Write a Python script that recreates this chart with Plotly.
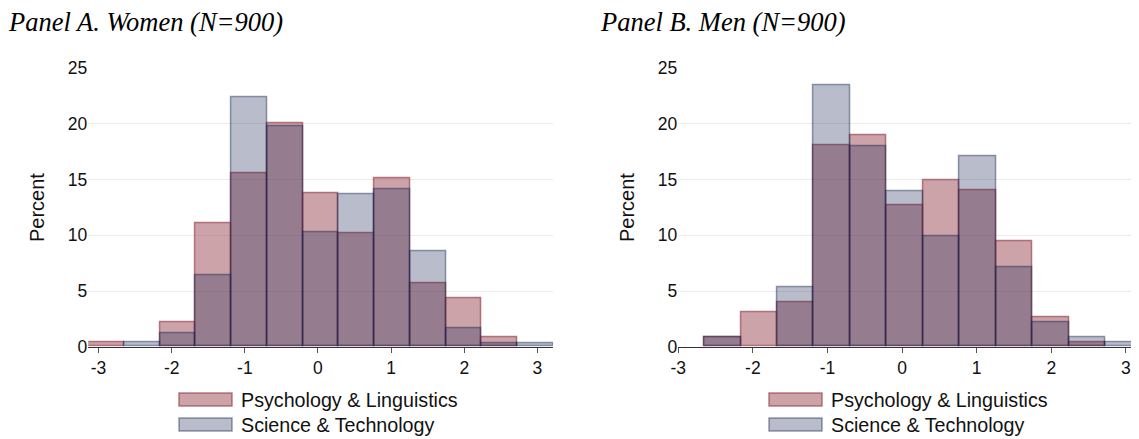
import plotly.graph_objects as go

# ---------------- data ----------------
bin_start = -3.14
bin_width = 0.489
n_bins = 13

women_psych = [0.36, 0.0, 2.16, 11.08, 15.57, 20.06, 13.77, 10.21, 15.12, 5.69, 4.37, 0.81, 0.0]
women_sci   = [0.0, 0.36, 1.20, 6.38, 22.37, 19.82, 10.27, 13.71, 14.16, 8.53, 1.62, 0.30, 0.33]
men_psych   = [0.0, 0.84, 3.05, 3.98, 18.11, 19.01, 12.66, 14.94, 14.01, 9.46, 2.63, 0.36, 0.0]
men_sci     = [0.0, 0.84, 0.0, 5.33, 23.50, 18.02, 13.92, 9.88, 17.13, 7.16, 2.19, 0.81, 0.36]

x_tick_vals = [-3, -2, -1, 0, 1, 2, 3]
x_tick_labels = ["-3", "-2", "-1", "0", "1", "2", "3"]
y_tick_vals = [0, 5, 10, 15, 20, 25]
y_tick_labels = ["0", "5", "10", "15", "20", "25"]

series_names = ["Psychology & Linguistics", "Science & Technology"]
panel_titles = ["Panel A. Women (N=900)", "Panel B. Men (N=900)"]
y_title = "Percent"

# ---------------- style ----------------
W, H = 1139, 439
OX, OY = 8, 8  # page body margin offset
RED_FILL = "rgba(153,71,81,0.5)"
RED_LINE = "rgba(150,60,72,0.65)"
GREY_FILL = "rgba(22,38,82,0.30)"
GREY_LINE = "rgba(22,38,82,0.45)"
SANS = "Liberation Sans, Arial, sans-serif"
SERIF = "Liberation Serif, Times New Roman, serif"


def px(x):
    return (x - OX) / W


def py(y):
    return 1 - (y - OY) / H


def nz(vals):
    # empty bins are not drawn
    return [v if v > 0 else None for v in vals]


centers = [bin_start + bin_width * (i + 0.5) for i in range(n_bins)]

fig = go.Figure()

panels = [
    ("x", "y", women_psych, women_sci),
    ("x2", "y2", men_psych, men_sci),
]
for xa, ya, psych, sci in panels:
    fig.add_trace(go.Bar(
        x=centers, y=nz(psych), width=bin_width, xaxis=xa, yaxis=ya,
        marker=dict(color=RED_FILL, line=dict(color=RED_LINE, width=1.5)),
        name=series_names[0], showlegend=False,
    ))
    fig.add_trace(go.Bar(
        x=centers, y=nz(sci), width=bin_width, xaxis=xa, yaxis=ya,
        marker=dict(color=GREY_FILL, line=dict(color=GREY_LINE, width=1.5)),
        name=series_names[1], showlegend=False,
    ))

x_end = bin_start + bin_width * n_bins

xcommon = dict(
    tickvals=x_tick_vals, ticktext=x_tick_labels, ticks="outside", ticklen=5,
    tickcolor="#555", tickwidth=1, showline=True, linecolor="#333", linewidth=1,
    showgrid=False, zeroline=False, tickfont=dict(family=SANS, size=17.5, color="#111"),
    fixedrange=True, automargin=False,
)
ycommon = dict(
    tickvals=y_tick_vals, ticktext=y_tick_labels, range=[0, 25], showline=False,
    showgrid=True, gridcolor="#ececec", gridwidth=1, zeroline=False, ticks="",
    tickfont=dict(family=SANS, size=17.5, color="#111"), fixedrange=True, automargin=False,
)

y_dom = [py(346.7), py(68.3)]
x2_right = 1139 + OX
fig.update_layout(
    width=W, height=H, margin=dict(l=0, r=0, t=0, b=0, pad=0, autoexpand=False),
    paper_bgcolor="white", plot_bgcolor="white", barmode="overlay", bargap=0,
    xaxis=dict(domain=[px(88.3), px(553.3)], range=[bin_start, x_end], anchor="y", **xcommon),
    yaxis=dict(domain=y_dom, anchor="x", **ycommon),
    xaxis2=dict(domain=[px(678.3), min(1.0, px(x2_right))],
                range=[-3, -3 + (x2_right - 678.3) / 74.6], anchor="y2", **xcommon),
    yaxis2=dict(domain=y_dom, anchor="x2", **ycommon),
    showlegend=False,
)

annotations = []
shapes = []
for k, x0_title in enumerate([8, 600]):
    annotations.append(dict(
        text="<i>" + panel_titles[k] + "</i>", xref="paper", yref="paper",
        x=px(x0_title - 2), y=py(22), xanchor="left", yanchor="middle", showarrow=False,
        font=dict(family=SERIF, size=26.5, color="#000"),
    ))
    off = 590 * k
    # y axis title
    annotations.append(dict(
        text=y_title, xref="paper", yref="paper", x=px(37 + off), y=py(208),
        xanchor="center", yanchor="middle", textangle=-90, showarrow=False,
        font=dict(family=SANS, size=20, color="#111"),
    ))
    # legend
    for j, (fill, line) in enumerate([(RED_FILL, RED_LINE), (GREY_FILL, GREY_LINE)]):
        yc = 399.5 + 25 * j
        shapes.append(dict(
            type="rect", xref="paper", yref="paper",
            x0=px(179 + off), x1=px(232 + off), y0=py(yc - 6.5), y1=py(yc + 6.5),
            fillcolor=fill, line=dict(color=line, width=1.5),
        ))
        annotations.append(dict(
            text=series_names[j], xref="paper", yref="paper", x=px(239 + off), y=py(yc),
            xanchor="left", yanchor="middle", showarrow=False,
            font=dict(family=SANS, size=19.7, color="#111"),
        ))

fig.update_layout(annotations=annotations, shapes=shapes)
fig.write_html("out.html")
